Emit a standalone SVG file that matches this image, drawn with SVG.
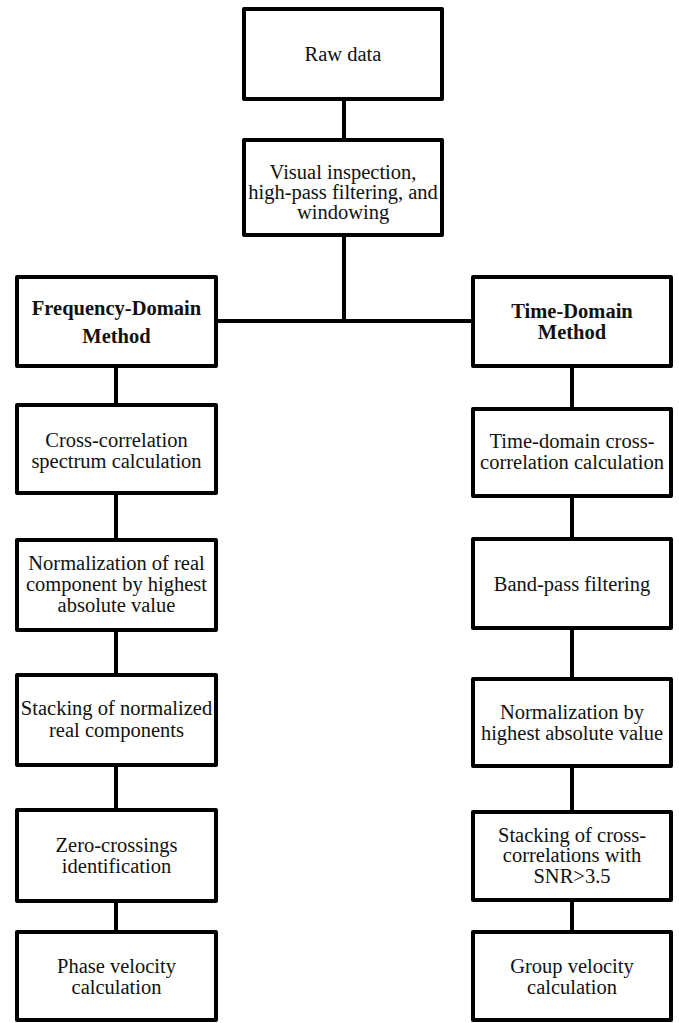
<svg xmlns="http://www.w3.org/2000/svg" width="679" height="1023" viewBox="0 0 679 1023">
<style>
.box{fill:#fff;stroke:#000;stroke-width:4;stroke-linejoin:round}
.t{font-family:"Liberation Serif","Times New Roman",serif;font-size:20.5px;fill:#111;text-anchor:middle}
.b{font-weight:bold}
.c{stroke:#000;stroke-width:4;fill:none}
</style>
<rect width="679" height="1023" fill="#fff"/>
<g id="connectors">
<line class="c" x1="344" y1="101" x2="344" y2="138"/>
<line class="c" x1="344" y1="237" x2="344" y2="321"/>
<line class="c" x1="218" y1="321" x2="471" y2="321"/>
<line class="c" x1="116" y1="368" x2="116" y2="403"/>
<line class="c" x1="116" y1="495" x2="116" y2="538"/>
<line class="c" x1="116" y1="632" x2="116" y2="673"/>
<line class="c" x1="116" y1="767" x2="116" y2="808"/>
<line class="c" x1="116" y1="903" x2="116" y2="930"/>
<line class="c" x1="572" y1="368" x2="572" y2="407"/>
<line class="c" x1="572" y1="498" x2="572" y2="537"/>
<line class="c" x1="572" y1="630" x2="572" y2="677"/>
<line class="c" x1="572" y1="768" x2="572" y2="810"/>
<line class="c" x1="572" y1="902" x2="572" y2="930"/>
</g>
<g id="raw">
<rect class="box" x="244" y="9" width="198" height="90"/>
<text class="t" x="343" y="61">Raw data</text>
</g>
<g id="visual">
<rect class="box" x="244" y="140" width="198" height="95"/>
<text class="t" x="343" y="178.5">Visual inspection,</text>
<text class="t" x="343" y="198.5">high-pass filtering, and</text>
<text class="t" x="343" y="218.5">windowing</text>
</g>
<g id="fd">
<rect class="box" x="17" y="277" width="199" height="89"/>
<text class="t b" x="116.5" y="315">Frequency-Domain</text>
<text class="t b" x="116.5" y="343">Method</text>
</g>
<g id="td">
<rect class="box" x="473" y="277" width="198" height="89"/>
<text class="t b" x="572" y="318">Time-Domain</text>
<text class="t b" x="572" y="339">Method</text>
</g>
<g id="fd-cross">
<rect class="box" x="17" y="405" width="199" height="88"/>
<text class="t" x="116.5" y="447">Cross-correlation</text>
<text class="t" x="116.5" y="468">spectrum calculation</text>
</g>
<g id="fd-norm">
<rect class="box" x="17" y="540" width="199" height="90"/>
<text class="t" x="116.5" y="570">Normalization of real</text>
<text class="t" x="116.5" y="591">component by highest</text>
<text class="t" x="116.5" y="612">absolute value</text>
</g>
<g id="fd-stack">
<rect class="box" x="17" y="675" width="199" height="90"/>
<text class="t" x="116.5" y="715">Stacking of normalized</text>
<text class="t" x="116.5" y="737">real components</text>
</g>
<g id="fd-zero">
<rect class="box" x="17" y="810" width="199" height="91"/>
<text class="t" x="116.5" y="852">Zero-crossings</text>
<text class="t" x="116.5" y="873">identification</text>
</g>
<g id="fd-phase">
<rect class="box" x="17" y="932" width="199" height="88"/>
<text class="t" x="116.5" y="973">Phase velocity</text>
<text class="t" x="116.5" y="994">calculation</text>
</g>
<g id="td-cross">
<rect class="box" x="473" y="409" width="198" height="87"/>
<text class="t" x="572" y="448">Time-domain cross-</text>
<text class="t" x="572" y="469">correlation calculation</text>
</g>
<g id="td-band">
<rect class="box" x="473" y="539" width="198" height="89"/>
<text class="t" x="572" y="591">Band-pass filtering</text>
</g>
<g id="td-norm">
<rect class="box" x="473" y="679" width="198" height="87"/>
<text class="t" x="572" y="719">Normalization by</text>
<text class="t" x="572" y="740">highest absolute value</text>
</g>
<g id="td-stack">
<rect class="box" x="473" y="812" width="198" height="88"/>
<text class="t" x="572" y="842">Stacking of cross-</text>
<text class="t" x="572" y="862">correlations with</text>
<text class="t" x="572" y="883">SNR&gt;3.5</text>
</g>
<g id="td-group">
<rect class="box" x="473" y="932" width="198" height="88"/>
<text class="t" x="572" y="973">Group velocity</text>
<text class="t" x="572" y="994">calculation</text>
</g>
</svg>
